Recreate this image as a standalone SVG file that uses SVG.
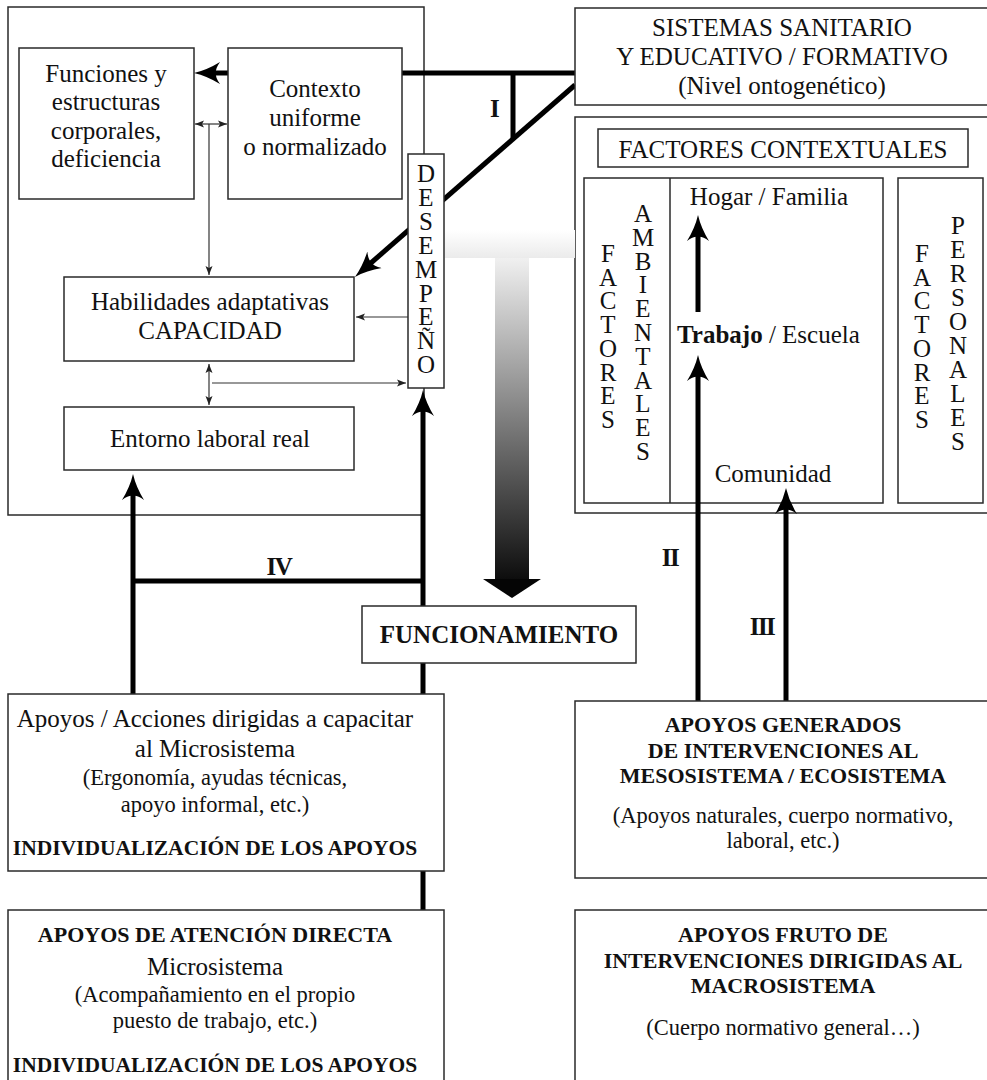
<svg xmlns="http://www.w3.org/2000/svg" width="987" height="1080" viewBox="0 0 987 1080">
<style>
.box{fill:#fff;stroke:#2a2a2a;stroke-width:1.5}
.frame{fill:none;stroke:#2a2a2a;stroke-width:1.5}
.t{font-family:"Liberation Serif",serif;font-size:25px;fill:#111;text-anchor:middle}
.p{font-size:22.5px}
.b{font-weight:bold;font-size:22px}
.ind{font-weight:bold;font-size:21.5px}
.rn{font-weight:bold;font-size:25px;letter-spacing:-1.5px}
.v{font-family:"Liberation Serif",serif;font-size:25px;fill:#111;text-anchor:middle}
.thick{stroke:#000;stroke-width:5;fill:none}
.thin{stroke:#333;stroke-width:1.2;fill:none}
</style>
<defs>
<marker id="ah" markerUnits="userSpaceOnUse" markerWidth="30" markerHeight="24" viewBox="0 -12 30 24" refX="14" refY="0" orient="auto">
<path d="M26,0 Q13,-3 0,-11 Q5,-4 4,0 Q5,4 0,11 Q13,3 26,0Z" fill="#000"/>
</marker>
<marker id="at" markerUnits="userSpaceOnUse" markerWidth="10" markerHeight="8" viewBox="0 -4 10 8" refX="9" refY="0" orient="auto-start-reverse">
<path d="M9,0 L0,-3.5 L2,0 L0,3.5Z" fill="#222"/>
</marker>
<linearGradient id="band" x1="0" y1="0" x2="0" y2="1">
<stop offset="0" stop-color="#ffffff"/>
<stop offset="1" stop-color="#ebebeb"/>
</linearGradient>
<linearGradient id="shaft" gradientUnits="userSpaceOnUse" x1="0" y1="258" x2="0" y2="598">
<stop offset="0" stop-color="#f0f0f0"/>
<stop offset="1" stop-color="#000"/>
</linearGradient>
</defs>

<!-- containers -->
<g id="left-frame"><rect class="frame" x="8" y="7" width="416" height="508"/></g>
<g id="factores-frame">
<rect class="frame" x="575" y="117" width="415" height="396"/>
</g>
<g id="factores-ambientales">
<rect class="frame" x="584" y="178" width="299" height="325"/>
<line class="frame" x1="670" y1="178" x2="670" y2="503"/>
<text class="v"><tspan x="608" y="262">F</tspan><tspan x="608" dy="23.7">A</tspan><tspan x="608" dy="23.7">C</tspan><tspan x="608" dy="23.7">T</tspan><tspan x="608" dy="23.7">O</tspan><tspan x="608" dy="23.7">R</tspan><tspan x="608" dy="23.7">E</tspan><tspan x="608" dy="23.7">S</tspan></text>
<text class="v"><tspan x="643" y="222">A</tspan><tspan x="643" dy="23.8">M</tspan><tspan x="643" dy="23.8">B</tspan><tspan x="643" dy="23.8">I</tspan><tspan x="643" dy="23.8">E</tspan><tspan x="643" dy="23.8">N</tspan><tspan x="643" dy="23.8">T</tspan><tspan x="643" dy="23.8">A</tspan><tspan x="643" dy="23.8">L</tspan><tspan x="643" dy="23.8">E</tspan><tspan x="643" dy="23.8">S</tspan></text>
<text class="t" x="769" y="205">Hogar / Familia</text>
<text class="t" x="677" y="343" style="text-anchor:start"><tspan font-weight="bold">Trabajo</tspan> / Escuela</text>
<text class="t" x="773" y="482">Comunidad</text>
</g>
<g id="factores-personales">
<rect class="frame" x="898" y="178" width="85" height="325"/>
<text class="v"><tspan x="922" y="262">F</tspan><tspan x="922" dy="23.7">A</tspan><tspan x="922" dy="23.7">C</tspan><tspan x="922" dy="23.7">T</tspan><tspan x="922" dy="23.7">O</tspan><tspan x="922" dy="23.7">R</tspan><tspan x="922" dy="23.7">E</tspan><tspan x="922" dy="23.7">S</tspan></text>
<text class="v"><tspan x="958" y="234">P</tspan><tspan x="958" dy="24">E</tspan><tspan x="958" dy="24">R</tspan><tspan x="958" dy="24">S</tspan><tspan x="958" dy="24">O</tspan><tspan x="958" dy="24">N</tspan><tspan x="958" dy="24">A</tspan><tspan x="958" dy="24">L</tspan><tspan x="958" dy="24">E</tspan><tspan x="958" dy="24">S</tspan></text>
</g>
<g id="factores-contextuales">
<rect class="box" x="598" y="129" width="370" height="38"/>
<text class="t" x="783" y="158">FACTORES CONTEXTUALES</text>
</g>

<!-- gradient arrow -->
<g id="gradient-arrow">
<rect x="445" y="230" width="130" height="28" fill="url(#band)"/>
<rect x="495" y="258" width="34" height="322" fill="url(#shaft)"/>
<polygon points="483,579 541,579 512,598" fill="#050505"/>
</g>

<!-- connectors -->
<g id="connectors">
<line class="thick" x1="575" y1="73" x2="402" y2="73"/>
<line class="thick" x1="228" y1="73" x2="206" y2="73" marker-end="url(#ah)"/>
<line class="thick" x1="513" y1="73" x2="513" y2="139"/>
<line class="thick" x1="575" y1="85" x2="364" y2="269" marker-end="url(#ah)"/>
<line class="thin" x1="195" y1="124" x2="227" y2="124" marker-start="url(#at)" marker-end="url(#at)"/>
<line class="thin" x1="209" y1="124" x2="209" y2="275" marker-end="url(#at)"/>
<line class="thin" x1="408" y1="317" x2="356" y2="317" marker-end="url(#at)"/>
<line class="thin" x1="209" y1="364" x2="209" y2="405" marker-start="url(#at)" marker-end="url(#at)"/>
<line class="thin" x1="212" y1="383" x2="406" y2="383" marker-end="url(#at)"/>
<line class="thick" x1="133" y1="694" x2="133" y2="486" marker-end="url(#ah)"/>
<line class="thick" x1="423" y1="910" x2="423" y2="402" marker-end="url(#ah)"/>
<line class="thick" x1="133" y1="581" x2="423" y2="581"/>
<line class="thick" x1="698" y1="701" x2="698" y2="367" marker-end="url(#ah)"/>
<line class="thick" x1="698" y1="312" x2="698" y2="227" marker-end="url(#ah)"/>
<line class="thick" x1="786" y1="701" x2="786" y2="500" marker-end="url(#ah)"/>
<text class="t rn" x="494" y="117">I</text>
<text class="t rn" x="279" y="575">IV</text>
<text class="t rn" x="670" y="566">II</text>
<text class="t rn" x="762" y="635">III</text>
</g>

<!-- nodes -->
<g id="sistemas">
<rect class="box" x="575" y="8" width="415" height="97"/>
<text class="t" x="782" y="36">SISTEMAS SANITARIO</text>
<text class="t" x="782" y="65">Y EDUCATIVO / FORMATIVO</text>
<text class="t" x="782" y="94">(Nivel ontogenético)</text>
</g>
<g id="funciones">
<rect class="box" x="19" y="48" width="175" height="151"/>
<text class="t" x="106" y="82">Funciones y</text>
<text class="t" x="106" y="110">estructuras</text>
<text class="t" x="106" y="139">corporales,</text>
<text class="t" x="106" y="167">deficiencia</text>
</g>
<g id="contexto">
<rect class="box" x="228" y="48" width="174" height="151"/>
<text class="t" x="315" y="97">Contexto</text>
<text class="t" x="315" y="126">uniforme</text>
<text class="t" x="315" y="155">o normalizado</text>
</g>
<g id="habilidades">
<rect class="box" x="64" y="277" width="290" height="84"/>
<text class="t" x="210" y="310">Habilidades adaptativas</text>
<text class="t" x="210" y="339">CAPACIDAD</text>
</g>
<g id="entorno">
<rect class="box" x="64" y="407" width="290" height="63"/>
<text class="t" x="210" y="447">Entorno laboral real</text>
</g>
<g id="desempeno">
<rect class="box" x="408" y="154" width="36" height="234"/>
<text class="v"><tspan x="426" y="182">D</tspan><tspan x="426" dy="23.9">E</tspan><tspan x="426" dy="23.9">S</tspan><tspan x="426" dy="23.9">E</tspan><tspan x="426" dy="23.9">M</tspan><tspan x="426" dy="23.9">P</tspan><tspan x="426" dy="23.9">E</tspan><tspan x="426" dy="23.9">Ñ</tspan><tspan x="426" dy="23.9">O</tspan></text>
</g>
<g id="funcionamiento">
<rect class="box" x="362" y="606" width="274" height="57"/>
<text class="t" x="499" y="643" font-weight="bold" font-size="24">FUNCIONAMIENTO</text>
</g>
<g id="apoyos-microsistema">
<rect class="box" x="8" y="694" width="436" height="177"/>
<text class="t" x="215" y="727">Apoyos / Acciones dirigidas a capacitar</text>
<text class="t" x="215" y="757">al Microsistema</text>
<text class="t p" x="215" y="785">(Ergonomía, ayudas técnicas,</text>
<text class="t p" x="215" y="812">apoyo informal, etc.)</text>
<text class="t ind" x="215" y="855">INDIVIDUALIZACIÓN DE LOS APOYOS</text>
</g>
<g id="apoyos-directa">
<rect class="box" x="8" y="910" width="436" height="180"/>
<text class="t b" x="215" y="942">APOYOS DE ATENCIÓN DIRECTA</text>
<text class="t" x="215" y="975">Microsistema</text>
<text class="t p" x="215" y="1002">(Acompañamiento en el propio</text>
<text class="t p" x="215" y="1028">puesto de trabajo, etc.)</text>
<text class="t ind" x="215" y="1072">INDIVIDUALIZACIÓN DE LOS APOYOS</text>
</g>
<g id="apoyos-meso">
<rect class="box" x="575" y="701" width="415" height="177"/>
<text class="t b" x="783" y="732">APOYOS GENERADOS</text>
<text class="t b" x="783" y="758">DE INTERVENCIONES AL</text>
<text class="t b" x="783" y="783">MESOSISTEMA / ECOSISTEMA</text>
<text class="t p" x="783" y="823">(Apoyos naturales, cuerpo normativo,</text>
<text class="t p" x="783" y="848">laboral, etc.)</text>
</g>
<g id="apoyos-macro">
<rect class="box" x="575" y="910" width="415" height="180"/>
<text class="t b" x="783" y="942">APOYOS FRUTO DE</text>
<text class="t b" x="783" y="968">INTERVENCIONES DIRIGIDAS AL</text>
<text class="t b" x="783" y="993">MACROSISTEMA</text>
<text class="t p" x="783" y="1035">(Cuerpo normativo general…)</text>
</g>
</svg>
